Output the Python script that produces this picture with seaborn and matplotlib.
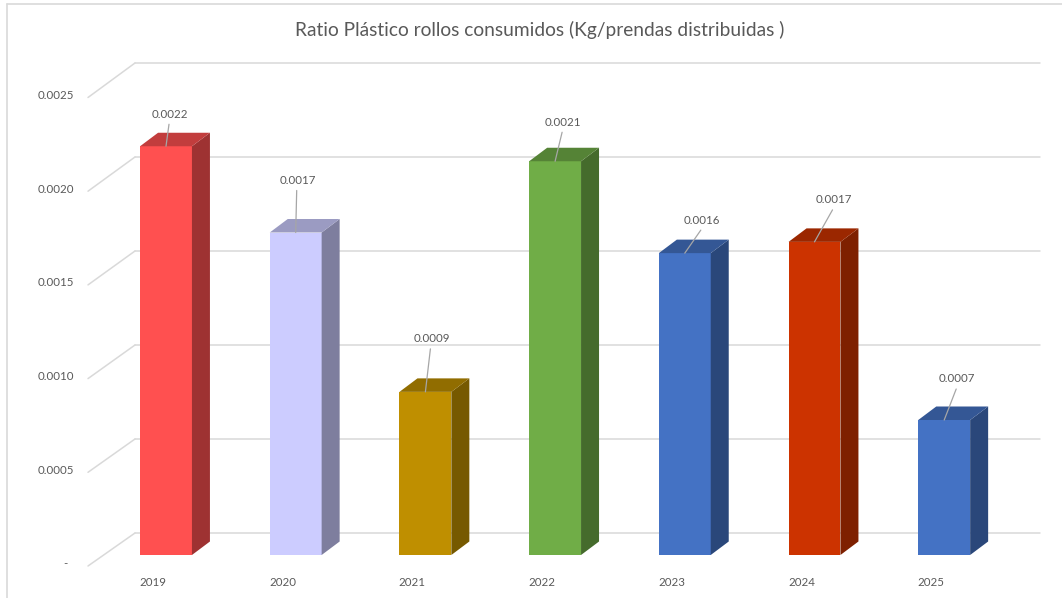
import matplotlib
matplotlib.use("Agg")
import matplotlib.pyplot as plt
from matplotlib.patches import Polygon
from matplotlib.lines import Line2D
from matplotlib.colors import to_rgb
import pandas as pd
import seaborn as sns

# ---- data ----
years = ["2019", "2020", "2021", "2022", "2023", "2024", "2025"]
ratio = [0.00218, 0.00172, 0.00087, 0.00210, 0.00161, 0.00167, 0.00072]
y_ticks = [0.0, 0.0005, 0.0010, 0.0015, 0.0020, 0.0025]
y_tick_labels = ["-", "0.0005", "0.0010", "0.0015", "0.0020", "0.0025"]
title = "Ratio Plástico rollos consumidos (Kg/prendas distribuidas )"

# ---- styling ----
front_colors = ["#FF5050", "#CCCCFF", "#BF8F00", "#70AD47", "#4472C4", "#CC3300", "#4472C4"]
# data-label placement relative to the top-front edge of each bar (pixels)
label_offsets_px = [(4, 32), (2, 52), (6, 53), (8, 39), (17, 33), (19, 42), (13, 41)]
TEXT = "#595959"
GRID = "#D9D9D9"
LEADER = "#A6A6A6"


def shade(color, factor):
    r, g, b = to_rgb(color)
    return (r * factor, g * factor, b * factor)


sns.set_theme(style="white")
plt.rcParams["font.family"] = ["Lato", "DejaVu Sans"]

W, H = 1062, 598
fig = plt.figure(figsize=(W / 100, H / 100), dpi=100)
ax = fig.add_axes([0, 0, 1, 1])

df = pd.DataFrame({"year": years, "ratio": ratio})
sns.barplot(data=df, x="year", y="ratio", hue="year", palette=front_colors,
            width=0.4, saturation=1, legend=False, ax=ax, zorder=3,
            linewidth=0, edgecolor="none")

# pixel <-> data layout of the front plane of the bars
X0_PX, X_STEP = 166.0, 129.7
Y0_PX, Y_PER = 555.0, 187500.0
ax.set_xlim(-X0_PX / X_STEP, (W - X0_PX) / X_STEP)
ax.set_ylim(-(H - Y0_PX) / Y_PER, Y0_PX / Y_PER)
ax.axis("off")


def px_x(px):
    return (px - X0_PX) / X_STEP


def dpx_y(d):
    return d / Y_PER


def back_y(v):
    # back wall sits 22 px higher with a slightly larger scale
    return (22 + v * 188000) / Y_PER


def front_y(v):
    # value-axis labels sit on the front edge, 9 px lower than the bars' base
    return (-9 + v * 187400) / Y_PER


# ---- walls: gridlines, diagonal floor/side edges, value labels ----
for v, lab in zip(y_ticks, y_tick_labels):
    ax.plot([px_x(135), px_x(1040)], [back_y(v), back_y(v)], color=GRID, lw=1.1, zorder=1)
    ax.plot([px_x(88), px_x(135)], [front_y(v) - dpx_y(2), back_y(v)], color=GRID, lw=1.1, zorder=1)
    if lab == "-":
        ax.text(px_x(65), front_y(v), lab, ha="center", va="center", fontsize=8.3, color=TEXT)
    else:
        ax.text(px_x(74), front_y(v), lab, ha="right", va="center", fontsize=8.3, color=TEXT)

# ---- 3D faces for each bar ----
DX = 18 / X_STEP
DY = dpx_y(13.5)
bars = sorted(ax.patches, key=lambda p: p.get_x())
for bar, col in zip(bars, front_colors):
    x0 = bar.get_x()
    w = bar.get_width()
    h = bar.get_height()
    x1 = x0 + w
    side = Polygon([(x1, 0), (x1 + DX, DY), (x1 + DX, h + DY), (x1, h)],
                   closed=True, facecolor=shade(col, 0.62), edgecolor="none", zorder=3)
    top = Polygon([(x0, h), (x0 + DX, h + DY), (x1 + DX, h + DY), (x1, h)],
                  closed=True, facecolor=shade(col, 0.76), edgecolor="none", zorder=3)
    ax.add_patch(side)
    ax.add_patch(top)

# ---- data labels with leader lines ----
for i, (v, (ox, oy)) in enumerate(zip(ratio, label_offsets_px)):
    lx = i + ox / X_STEP
    ly = v + dpx_y(oy)
    ax.plot([lx - 1 / X_STEP, i], [ly - dpx_y(10), v], color=LEADER, lw=0.9, zorder=4)
    ax.text(lx, ly, f"{v:.4f}", ha="center", va="center", fontsize=8.3, color=TEXT, zorder=5)

# ---- category labels ----
for i, yr in enumerate(years):
    ax.text(i - 13 / X_STEP, dpx_y(-27), yr, ha="center", va="center", fontsize=8.3, color=TEXT)

# ---- title and chart frame ----
fig.text(540 / W, 1 - 30 / H, title, ha="center", va="center", fontsize=13.8, color=TEXT)
fig.add_artist(Line2D([7 / W, 7 / W], [0, 1 - 4 / H], transform=fig.transFigure, color=GRID, lw=1.2))
fig.add_artist(Line2D([7 / W, 1], [1 - 4 / H, 1 - 4 / H], transform=fig.transFigure, color=GRID, lw=1.2))

fig.savefig("out.png", dpi=100, facecolor="white")
